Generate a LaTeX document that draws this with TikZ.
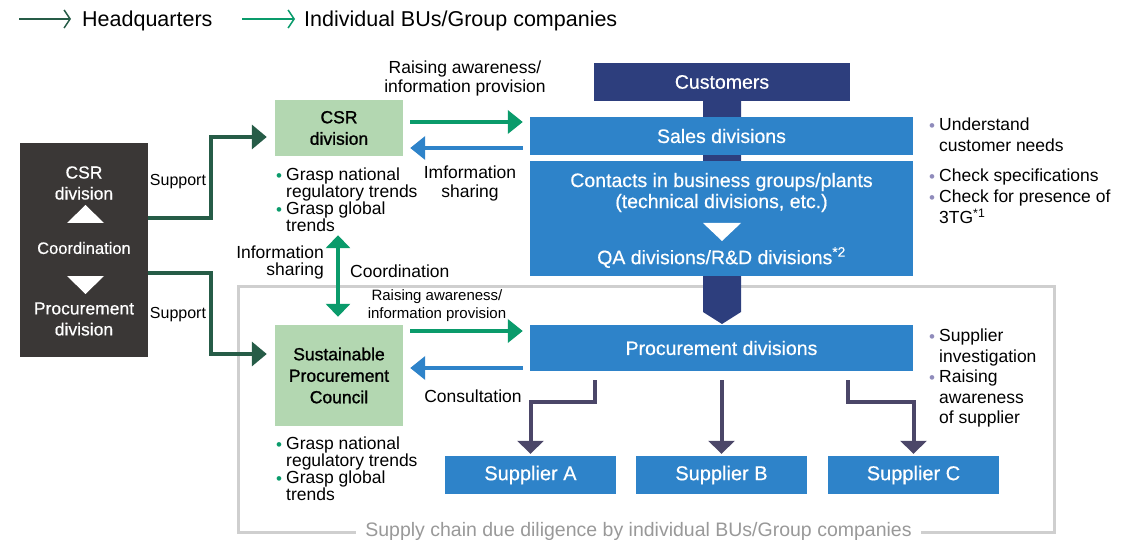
\documentclass[tikz,border=0pt]{standalone}
\usepackage{fontspec}
\setmainfont{Liberation Sans}
\newfontfamily\medfont{Liberation Sans}[FakeBold=1.2]
\newfontfamily\wfont{Liberation Sans}[FakeBold=0.5]
\usetikzlibrary{arrows.meta}
\lineskiplimit=-100pt
\definecolor{hqgreen}{HTML}{265C47}
\definecolor{bugreen}{HTML}{0A9B6B}
\definecolor{lgreen}{HTML}{B3D7B1}
\definecolor{bblue}{HTML}{2E83C9}
\definecolor{navy}{HTML}{2D3E7D}
\definecolor{dkbox}{HTML}{3A3736}
\definecolor{conn}{HTML}{4B4668}
\definecolor{framec}{HTML}{CFCFCF}
\definecolor{frametext}{HTML}{999999}
\definecolor{bpurple}{HTML}{8F8BBB}
\newcommand\bul[1]{\makebox[10pt][l]{\textcolor{#1}{\fontsize{17}{17}\selectfont\raisebox{-1pt}{•}}}}
\newcommand\contind{\hspace*{10pt}}
\begin{document}
\begin{tikzpicture}[x=1pt,y=-1pt,
 every node/.style={inner sep=0pt},
 t175/.style={align=center,font=\fontsize{17.5}{19}\selectfont},
 tleft/.style={align=left,font=\fontsize{17.5}{17}\selectfont},
 tnote/.style={align=left,font=\fontsize{17.5}{21}\selectfont},
 bluebox/.style={fill=bblue,text=white,align=center,font=\wfont\fontsize{19.5}{21}\selectfont},
 greenbox/.style={fill=lgreen,align=center,font=\medfont\fontsize{17.5}{21.5}\selectfont},
 wtext/.style={text=white,align=center,font=\wfont\fontsize{17.5}{21}\selectfont},
 legtext/.style={anchor=west,font=\fontsize{21.5}{24}\selectfont},
 garr/.style={draw=bugreen,line width=4pt,-{Triangle[length=15pt,width=23pt]}},
 barr/.style={draw=bblue,line width=4pt,-{Triangle[length=15pt,width=23pt]}},
 hqarr/.style={draw=hqgreen,line width=3.5pt,-{Triangle[length=15pt,width=24pt]}},
 carr/.style={draw=conn,line width=4pt,-{Triangle[length=13pt,width=26pt]}},
 legarr/.style={line width=1.5pt,-{Straight Barb[length=6pt,width=18pt]}},
]
\useasboundingbox (0,0) rectangle (1122,540);

% legend
\coordinate (l1s) at (19,19); \coordinate (l1e) at (71,19);
\draw[legarr,draw=hqgreen] (l1s) -- (l1e);
\node[legtext] (lg1) at (82,20.5) {Headquarters};
\coordinate (l2s) at (242,19); \coordinate (l2e) at (295,19);
\draw[legarr,draw=bugreen] (l2s) -- (l2e);
\node[legtext] (lg2) at (304,20.5) {Individual BUs/Group companies};

% frame
\draw[draw=framec,line width=3pt] (238,286) rectangle (1054,532);
\node[fill=white,inner xsep=9pt,inner ysep=3pt,text=frametext,font=\fontsize{19.5}{21}\selectfont] (sc) at (638.5,531) {Supply chain due diligence by individual BUs/Group companies};

% HQ box
\node[fill=dkbox,minimum width=128pt,minimum height=214pt] (hq) at (84,250) {};
\node[wtext] (hq1) at (84,183) {CSR\\division};
\fill[white] (67,223) -- (104,223) -- (85.5,205) -- cycle;
\node[wtext,font=\wfont\fontsize{16.5}{19}\selectfont] (hq2) at (84,248) {Coordination};
\fill[white] (67,276) -- (104,276) -- (85.5,294) -- cycle;
\node[wtext] (hq3) at (84,319) {Procurement\\division};

% green boxes
\node[greenbox,minimum width=128pt,minimum height=56pt] (csr) at (339,128) {CSR\\division};
\node[greenbox,minimum width=128pt,minimum height=101pt] (spc) at (339,375.5) {Sustainable\\Procurement\\Council};

\node[tleft,anchor=west] (csrb) at (276,199.5) {\bul{bugreen}Grasp national\\\contind regulatory trends\\\bul{bugreen}Grasp global\\\contind trends};
\node[tleft,anchor=west] (spcb) at (276,468.5) {\bul{bugreen}Grasp national\\\contind regulatory trends\\\bul{bugreen}Grasp global\\\contind trends};

% support arrows
\node[t175,font=\fontsize{16}{19}\selectfont] (sup1) at (178,182) {Support};
\node[t175,font=\fontsize{16}{19}\selectfont] (sup2) at (178,315) {Support};
\draw[hqarr] ([yshift=32pt]hq.east) -- ++(63,0) |- ([xshift=-8pt,yshift=-9pt]csr.west);
\draw[hqarr] ([yshift=-23pt]hq.east) -- ++(63,0) |- ([xshift=-8pt,yshift=21.5pt]spc.west);

% navy bar and customers
\fill[navy] (703,101) -- (741,101) -- (741,312) -- (722,324) -- (703,312) -- cycle;
\node[fill=navy,text=white,font=\wfont\fontsize{19.5}{21}\selectfont,minimum width=256pt,minimum height=38pt] (cust) at (722,82) {Customers};

% blue boxes
\node[bluebox,minimum width=383pt,minimum height=38pt] (sales) at (721.5,136) {Sales divisions};
\node[bluebox,minimum width=383pt,minimum height=115pt] (cont) at (721.5,218.5) {};
\node[wtext,font=\wfont\fontsize{19.5}{21}\selectfont] (cont1) at (721.5,192.5) {Contacts in business groups/plants\\(technical divisions, etc.)};
\fill[white] (703,223) -- (741,223) -- (722,241) -- cycle;
\node[wtext,font=\wfont\fontsize{19.5}{21}\selectfont] (cont2) at (721.5,257.5) {QA divisions/R\&D divisions\textsuperscript{*2}};
\node[bluebox,minimum width=383pt,minimum height=46pt] (proc) at (721.5,348) {Procurement divisions};

\node[bluebox,font=\wfont\fontsize{20}{21}\selectfont,minimum width=171pt,minimum height=38pt] (supA) at (530.5,475) {Supplier A};
\node[bluebox,font=\wfont\fontsize{20}{21}\selectfont,minimum width=171pt,minimum height=38pt] (supB) at (721.5,475) {Supplier B};
\node[bluebox,font=\wfont\fontsize{20}{21}\selectfont,minimum width=171pt,minimum height=38pt] (supC) at (913.5,475) {Supplier C};

% arrows between CSR and sales
\node[t175] (ra1) at (465,78.5) {Raising awareness/\\information provision};
\draw[garr] ([shift={(7,-6)}]csr.east) -- ([shift={(-7,-14)}]sales.west);
\draw[barr] ([shift={(-7,12)}]sales.west) -- ([shift={(7,20)}]csr.east);
\node[t175] (is1) at (470,183) {Imformation\\sharing};

% vertical coordination arrow
\draw[draw=bugreen,line width=4pt,{Triangle[length=13pt,width=24pt]}-{Triangle[length=13pt,width=24pt]}] ([shift={(-1,79)}]csr.south) -- ([shift={(-1,-8)}]spc.north);
\node[align=right,anchor=east,font=\fontsize{17.5}{17}\selectfont] (is2) at (324,262.5) {Information\\sharing};
\node[anchor=west,font=\fontsize{17.5}{19}\selectfont] (co) at (350,271) {Coordination};

% arrows between SPC and procurement
\node[align=center,font=\fontsize{15}{18}\selectfont] (ra2) at (437,306) {Raising awareness/\\information provision};
\draw[garr] ([shift={(7,-44.5)}]spc.east) -- ([shift={(-7,-17)}]proc.west);
\draw[barr] ([shift={(-7,20)}]proc.west) -- ([shift={(7,-7.5)}]spc.east);
\node[t175] (cons) at (473,396) {Consultation};

% procurement to suppliers
\draw[carr] ([xshift=-126.5pt,yshift=-9pt]proc.south) -- ++(0,22) -| ([yshift=2pt]supA.north);
\draw[carr] ([yshift=-9pt]proc.south) -- ([yshift=2pt]supB.north);
\draw[carr] ([xshift=126.5pt,yshift=-9pt]proc.south) -- ++(0,22) -| ([yshift=2pt]supC.north);

% right notes
\node[tnote,anchor=west] (n1) at (929,134.5) {\bul{bpurple}Understand\\\contind customer needs};
\node[tnote,anchor=west] (n2) at (929,196.5) {\bul{bpurple}Check specifications\\\bul{bpurple}Check for presence of\\\contind 3TG\textsuperscript{*1}};
\node[tnote,anchor=west,font=\fontsize{17.5}{20.5}\selectfont] (n3) at (929,378) {\bul{bpurple}Supplier\\\contind investigation\\\bul{bpurple}Raising\\\contind awareness\\\contind of supplier};
\end{tikzpicture}
\end{document}
